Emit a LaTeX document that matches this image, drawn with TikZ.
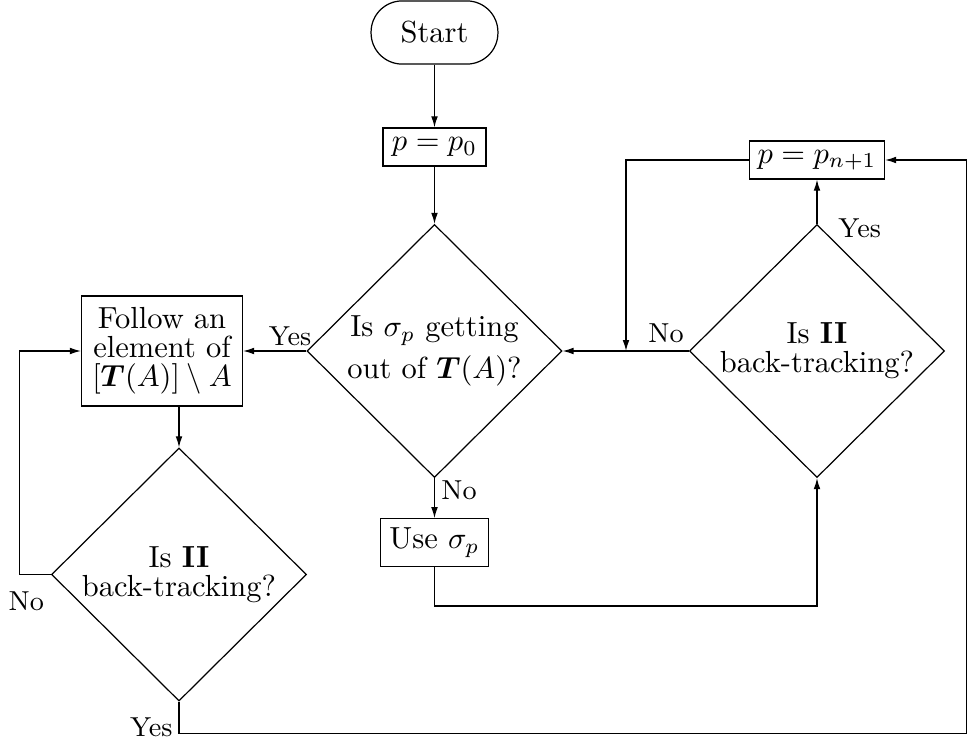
\documentclass[tikz,border=0pt]{standalone}
\usepackage{amsmath}
\usetikzlibrary{shapes.geometric,arrows.meta}
\begin{document}
\begin{tikzpicture}[x=0.3279pt,y=-0.3279pt,
  every node/.style={font=\fontsize{10}{9.5}\selectfont, align=center},
  boxnode/.style={draw, rectangle, inner sep=0pt},
  decision/.style={draw, diamond, inner sep=0pt, minimum width=83.6pt, minimum height=83pt},
  lbl/.style={font=\small, inner sep=0pt},
  arr/.style={-{Latex[length=3.6pt,width=2.2pt]}},
]
\useasboundingbox (0,0) rectangle (968,745);

\node[boxnode, rounded corners=10.2pt, minimum width=41.6pt, minimum height=20.7pt] (start) at (434.5,32.5) {Start};
\node[boxnode, minimum width=33.8pt, minimum height=12.5pt] (p0) at (434.5,147) {$p=p_0$};
\node[decision, font=\fontsize{10}{13.8}\selectfont] (d1) at (434.5,351) {Is $\sigma_p$ getting\\out of $\boldsymbol{T}(A)$?};
\node[boxnode, minimum width=35.3pt, minimum height=15.7pt] (use) at (434.5,542.7) {Use $\sigma_p$};
\node[decision] (rd) at (817,351) {Is \textbf{II}\\back-tracking?};
\node[boxnode, minimum width=44.3pt, minimum height=12.5pt] (pn) at (817,160) {$p=p_{n+1}$};
\node[boxnode, minimum width=52.8pt, minimum height=36.1pt] (follow) at (162,351) {Follow an\\element of\\$[\boldsymbol{T}(A)]\setminus A$};
\node[decision] (ld) at (179,574.5) {Is \textbf{II}\\back-tracking?};

\coordinate (m) at (626,351);
\coordinate (ll) at (19.3,351);
\coordinate (br) at (966.5,733.3);
\coordinate (ur) at (817,606);

\draw[arr] (start) -- (p0);
\draw[arr] (p0) -- (d1);
\draw[arr] (d1) -- (use);
\draw[arr] (d1.west) -- (follow.east);
\draw[arr] (rd.west) -- (d1.east);
\draw[arr] (rd.north) -- (pn.south);
\draw[arr] (pn.west) -| (m);
\draw[arr] (use.south) |- (ur) -- (rd.south);
\draw[arr] (follow.south -| ld.north) -- (ld.north);
\draw[arr] (ld.west) -| (ll) -- (follow.west);
\draw[arr] (ld.south) |- (br) |- (pn.east);

\node[lbl] (y1) at (290,336.5) {Yes};
\node[lbl] (n1) at (666,333.5) {No};
\node[lbl] (n2) at (459,490.5) {No};
\node[lbl] (y2) at (859.7,227.8) {Yes};
\node[lbl] (n3) at (26.3,601) {No};
\node[lbl] (y3) at (151.3,727.5) {Yes};
\end{tikzpicture}
\end{document}
